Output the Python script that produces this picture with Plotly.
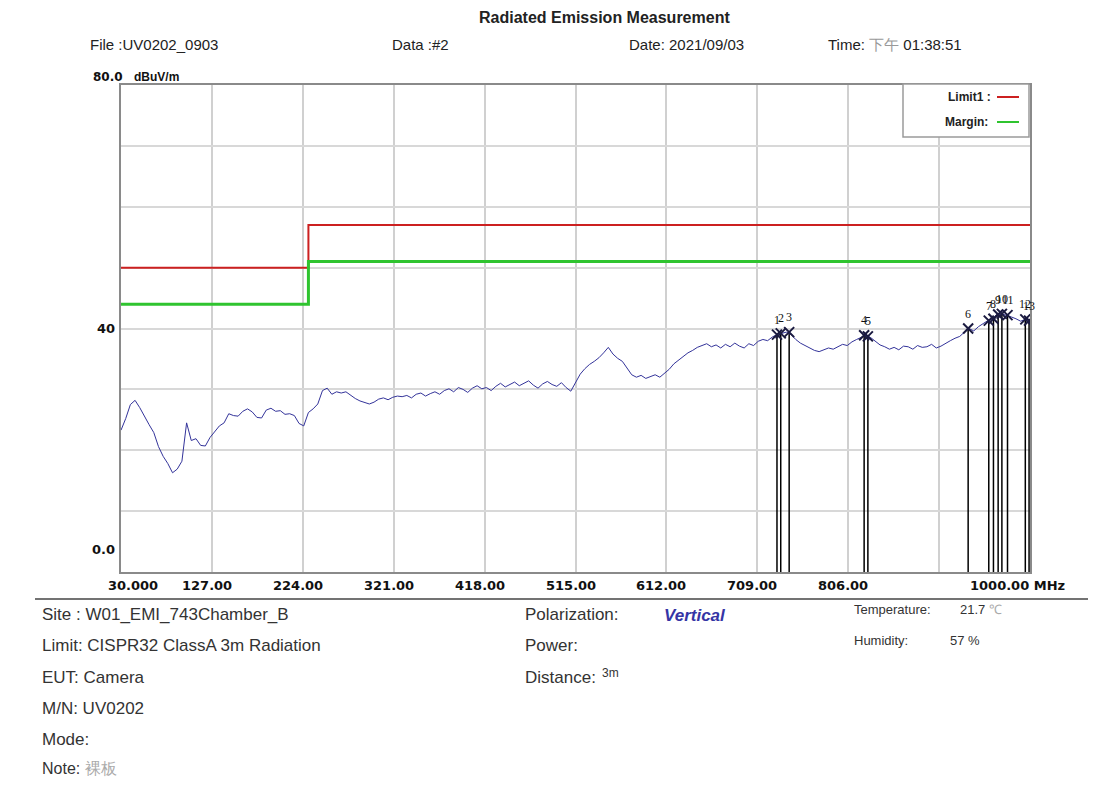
import plotly.graph_objects as go
import numpy as np

# ---------------- data ----------------
# measured level (dBuV/m), sweep 30..1000 MHz in 5 MHz steps
levels = [
    23.3, 25.2, 27.5, 28.2, 27.0, 25.5, 24.2, 22.9, 20.6, 19.0,   # 30-75
    17.8, 16.3, 16.9, 18.2, 24.5, 21.6, 21.9, 20.8, 20.7, 22.1,   # 80-125
    23.0, 24.0, 24.5, 26.0, 25.7, 25.6, 26.4, 26.8, 26.3, 25.4,   # 130-175
    25.3, 26.6, 26.9, 26.4, 26.5, 25.9, 26.0, 25.7, 24.4, 24.0,   # 180-225
    26.2, 26.8, 27.6, 29.8, 30.2, 29.2, 29.6, 29.4, 29.6, 29.0,   # 230-275
    28.5, 28.1, 27.8, 27.6, 27.9, 28.4, 28.6, 28.3, 28.7, 28.9,   # 280-325
    28.8, 29.0, 28.6, 29.2, 29.4, 28.9, 29.3, 29.6, 29.2, 29.8,   # 330-375
    30.1, 29.6, 30.3, 30.0, 29.5, 30.2, 30.6, 30.1, 30.3, 29.8,   # 380-425
    30.5, 31.0, 30.4, 30.8, 31.2, 30.6, 31.0, 31.4, 30.7, 30.2,   # 430-475
    30.9, 31.3, 30.8, 30.5, 31.1, 30.3, 29.7, 31.2, 32.5, 33.4,   # 480-525
    34.1, 34.6, 35.2, 36.0, 36.9, 35.8, 35.1, 34.6, 33.5, 32.4,   # 530-575
    32.0, 32.3, 31.8, 32.1, 32.4, 32.0, 32.7, 33.3, 34.2, 34.8,   # 580-625
    35.5, 36.0, 36.4, 36.9, 37.2, 37.5, 37.0, 37.3, 36.8, 37.4,   # 630-675
    37.0, 37.6, 37.1, 36.8, 37.5, 37.2, 37.9, 38.2, 38.0, 38.6,   # 680-725
    39.0, 39.2, 39.4, 39.0, 38.2, 37.6, 37.2, 36.8, 36.4, 36.2,   # 730-775
    36.5, 36.8, 36.6, 37.0, 37.4, 37.2, 37.8, 38.2, 38.6, 38.9,   # 780-825
    38.5, 37.9, 37.3, 37.0, 36.6, 36.9, 36.5, 37.1, 37.0, 36.6,   # 830-875
    37.2, 36.9, 37.0, 37.4, 36.8, 37.1, 37.6, 38.0, 38.4, 38.7,   # 880-925
    39.4, 40.0, 39.6, 40.3, 40.8, 41.3, 41.6, 42.3, 42.4, 42.2,   # 930-975
    41.9, 41.6, 41.2, 41.5, 41.3,                                 # 980-1000
]
freqs = np.linspace(30, 1000, len(levels))

# limits
limit_freq = [30, 230, 230, 1000]
limit1 = [50, 50, 57, 57]
margin = [44, 44, 51, 51]

# markers
marker_no = ["1", "2", "3", "4", "5", "6", "7", "8", "9", "10", "11", "12", "13"]
marker_freq = [730, 734, 743, 823, 827, 934, 956, 961, 966, 970, 976, 995, 999]
marker_level = [39.0, 39.2, 39.4, 38.9, 38.7, 40.0, 41.3, 41.6, 42.3, 42.4, 42.2, 41.5, 41.3]

x_ticks = [30, 127, 224, 321, 418, 515, 612, 709, 806, 903, 1000]
x_tick_text = ["30.000", "127.00", "224.00", "321.00", "418.00", "515.00",
               "612.00", "709.00", "806.00", "", "1000.00 MHz"]
y_ticks = [0, 10, 20, 30, 40, 50, 60, 70, 80]

# ---------------- geometry helpers (reference pixel -> paper) ----------------
OFF = 8                      # page body margin
W, H = 1090, 771
L, R, T, B = 121 - OFF, 1030 - OFF, 85 - OFF, 572 - OFF

def px(x):
    return (x - OFF - L) / (R - L)

def py(y):
    return (B - (y - OFF)) / (B - T)

fig = go.Figure()

# stems from markers
sx, sy = [], []
for f, v in zip(marker_freq, marker_level):
    sx += [f, f, None]
    sy += [0, v, None]
fig.add_trace(go.Scatter(x=sx, y=sy, mode="lines",
                         line=dict(color="black", width=1.5), hoverinfo="skip"))

fig.add_trace(go.Scatter(x=limit_freq, y=limit1, mode="lines",
                         line=dict(color="#cc2020", width=2)))
fig.add_trace(go.Scatter(x=limit_freq, y=margin, mode="lines",
                         line=dict(color="#2fc42f", width=3)))
fig.add_trace(go.Scatter(x=freqs, y=levels, mode="lines",
                         line=dict(color="#33339a", width=1)))
fig.add_trace(go.Scatter(x=marker_freq, y=marker_level, mode="markers",
                         marker=dict(symbol="x-thin", size=10,
                                     line=dict(color="#1a1a40", width=2))))

annotations = []
for n, f, v in zip(marker_no, marker_freq, marker_level):
    annotations.append(dict(x=f, y=v, xref="x", yref="y", text=n, showarrow=False,
                            yshift=15, font=dict(family="Liberation Serif", size=12,
                                                 color="#111111")))

# x tick labels
for i, (tv, tt) in enumerate(zip(x_ticks, x_tick_text)):
    if not tt:
        continue
    a = dict(x=tv, y=py(585), xref="x", yref="paper", text="<b>%s</b>" % tt,
             showarrow=False,
             font=dict(family="DejaVu Sans", size=13, color="#111111"), yanchor="middle")
    if i == 0:
        a.update(xanchor="left", xshift=-15)
    elif i == len(x_ticks) - 1:
        a.update(xanchor="right", xshift=37)
    else:
        a.update(xanchor="center", xshift=-5)
    annotations.append(a)

# y tick labels
annotations.append(dict(x=px(117), y=40, xref="paper", yref="y", text="<b>40</b>",
                        showarrow=False, xanchor="right",
                        font=dict(family="DejaVu Sans", size=13, color="#111111")))
annotations.append(dict(x=px(117), y=py(559), xref="paper", yref="paper",
                        text="<b>0.0</b>",
                        showarrow=False, xanchor="right",
                        font=dict(family="DejaVu Sans", size=13, color="#111111")))
annotations.append(dict(x=px(91), y=py(68), xref="paper", yref="paper",
                        text="<b>80.0</b>",
                        showarrow=False, xanchor="left",
                        font=dict(family="DejaVu Sans", size=12, color="#111111")))
annotations.append(dict(x=px(132), y=py(68), xref="paper", yref="paper",
                        text="<b>dBuV/m</b>",
                        showarrow=False, xanchor="left",
                        font=dict(family="Liberation Sans", size=12, color="#111111")))

def txt(x, y, s, size=15, color="#333333", family="Liberation Sans", anchor="left"):
    annotations.append(dict(x=px(x), y=py(y), xref="paper", yref="paper", text=s,
                            showarrow=False, xanchor=anchor, yanchor="middle",
                            font=dict(family=family, size=size, color=color)))

# title and header
txt(604, 18, "<b>Radiated Emission Measurement</b>", size=16, color="#222222", anchor="center")
txt(88, 45, "File :UV0202_0903", size=15, color="#222222")
txt(390, 45, "Data :#2", size=15, color="#222222")
txt(627, 45, "Date: 2021/09/03", size=15, color="#222222")
txt(826, 45, "Time: <span style='color:#999999'>下午</span> 01:38:51", size=15, color="#222222")

# legend
txt(946, 97, "<b>Limit1 :</b>", size=12, color="#222222")
txt(943, 122, "<b>Margin:</b>", size=12, color="#222222")

# bottom info
txt(40, 614, "Site : W01_EMI_743Chamber_B", size=17)
txt(40, 645, "Limit: CISPR32 ClassA 3m Radiation", size=17)
txt(40, 677, "EUT: Camera", size=17)
txt(40, 708, "M/N: UV0202", size=17)
txt(40, 739, "Mode:", size=17)
txt(40, 768, "Note: <span style='color:#aaaaaa'>裸板</span>", size=16)
txt(523, 614, "Polarization:", size=17)
txt(662, 615, "<b><i>Vertical</i></b>", size=17, color="#3535a5")
txt(523, 645, "Power:", size=17)
txt(523, 677, "Distance:", size=17)
txt(600, 673, "3m", size=12)
txt(852, 609, "Temperature:", size=13)
txt(958, 609, "21.7 <span style='color:#aaaaaa'>℃</span>", size=13)
txt(852, 640, "Humidity:", size=13)
txt(948, 640, "57 %", size=13)

shapes = [
    # legend box
    dict(type="rect", xref="paper", yref="paper", x0=px(903), x1=px(1029),
         y0=py(137), y1=py(84), line=dict(color="#9a9a9a", width=1.5),
         fillcolor="white", layer="above"),
    dict(type="line", xref="paper", yref="paper", x0=px(997), x1=px(1019),
         y0=py(97), y1=py(97), line=dict(color="#cc2020", width=2)),
    dict(type="line", xref="paper", yref="paper", x0=px(997), x1=px(1019),
         y0=py(122), y1=py(122), line=dict(color="#2fc42f", width=2)),
    # separator under chart
    dict(type="line", xref="paper", yref="paper", x0=px(35), x1=px(1088),
         y0=py(599), y1=py(599), line=dict(color="#444444", width=1.5)),
]

fig.update_layout(
    width=W, height=H,
    margin=dict(l=L, r=W - R, t=T, b=H - B, pad=0),
    paper_bgcolor="white", plot_bgcolor="white",
    showlegend=False,
    annotations=annotations,
    shapes=shapes,
    xaxis=dict(range=[30, 1000], tickvals=x_ticks, showticklabels=False,
               showgrid=True, gridcolor="#d0d0d0", gridwidth=1.5, zeroline=False,
               showline=True, linecolor="#8a8a8a", linewidth=2, mirror=True,
               ticks=""),
    yaxis=dict(range=[0, 80], tickvals=y_ticks, showticklabels=False,
               showgrid=True, gridcolor="#d8d8d8", gridwidth=1.5, zeroline=False,
               showline=True, linecolor="#8a8a8a", linewidth=2, mirror=True,
               ticks=""),
)

fig.write_html("out.html")
